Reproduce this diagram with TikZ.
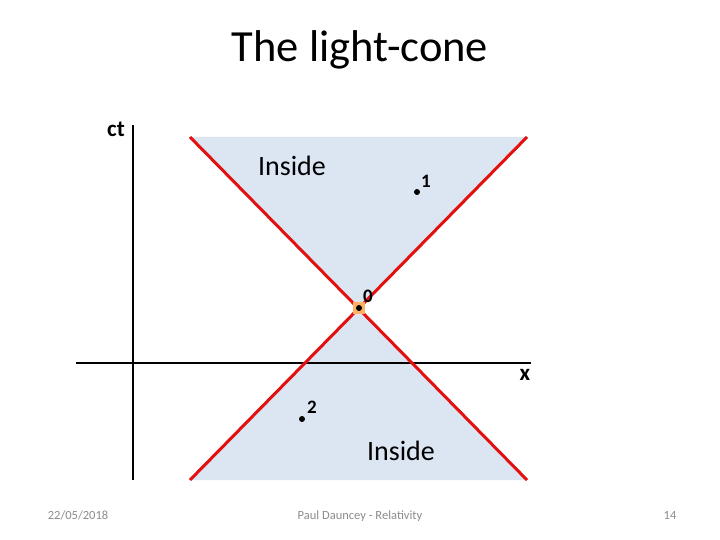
\documentclass[tikz,border=0pt]{standalone}
\usepackage{fontspec}
\setmainfont{Carlito}
\definecolor{conefill}{HTML}{DCE6F2}
\definecolor{rayred}{HTML}{E31010}
\definecolor{footgray}{HTML}{8C8C8C}
\begin{document}
\begin{tikzpicture}[x=1pt,y=-1pt,
  cone/.style={fill=conefill, draw=none},
  ray/.style={draw=rayred, line width=3pt},
  axis/.style={draw=black, line width=2.5pt},
  lbl/.style={font=\fontsize{19}{22}\selectfont\bfseries, inner sep=0pt},
  axlbl/.style={font=\fontsize{23}{26}\selectfont\bfseries, inner sep=0pt},
  big/.style={font=\fontsize{28}{32}\selectfont, inner sep=0pt},
  foot/.style={font=\fontsize{12.5}{15}\selectfont, text=footgray, inner sep=0pt, anchor=base},
  ev/.style={circle, fill=black, inner sep=0pt, minimum size=6pt}]
\useasboundingbox (0,0) rectangle (720,540);
\fill[white] (0,0) rectangle (720,540);
\coordinate (tl) at (190,137);
\coordinate (tr) at (527,137);
\coordinate (bl) at (190,480);
\coordinate (br) at (527,480);
\coordinate (o) at (359,308);
\fill[cone] (tl) -- (tr) -- (o) -- cycle;
\fill[cone] (bl) -- (br) -- (o) -- cycle;
\coordinate (ytop) at (133,125);
\coordinate (ybot) at (133,480);
\coordinate (xl) at (76,363);
\coordinate (xr) at (531,363);
\draw[axis] (ybot) -- (ytop);
\draw[axis] (xl) -- (xr);
\draw[ray] (tl) -- (br);
\draw[ray] (tr) -- (bl);
\node[font=\fontsize{44.5}{52}\selectfont, inner sep=0pt] (title) at (360,50) {The light-cone};
\node[axlbl, anchor=east] (ct) at (125,129) {ct};
\node[axlbl] (xlab) at (525,375) {x};
\node[big] (in1) at (292,166) {Inside};
\node[big] (in2) at (401,451) {Inside};
\node[fill=orange!60, minimum size=12pt, inner sep=0pt] (sq) at (o) {};
\node[ev] (e0) at (o) {};
\node[lbl] (l0) at (368,296) {0};
\node[ev] (e1) at (417,192) {};
\node[lbl] (l1) at (426,181) {1};
\node[ev] (e2) at (302,419) {};
\node[lbl] (l2) at (312,407) {2};
\node[foot] (f1) at (78,519) {22/05/2018};
\node[foot] (f2) at (360,519) {Paul Dauncey - Relativity};
\node[foot] (f3) at (670,519) {14};
\end{tikzpicture}
\end{document}
